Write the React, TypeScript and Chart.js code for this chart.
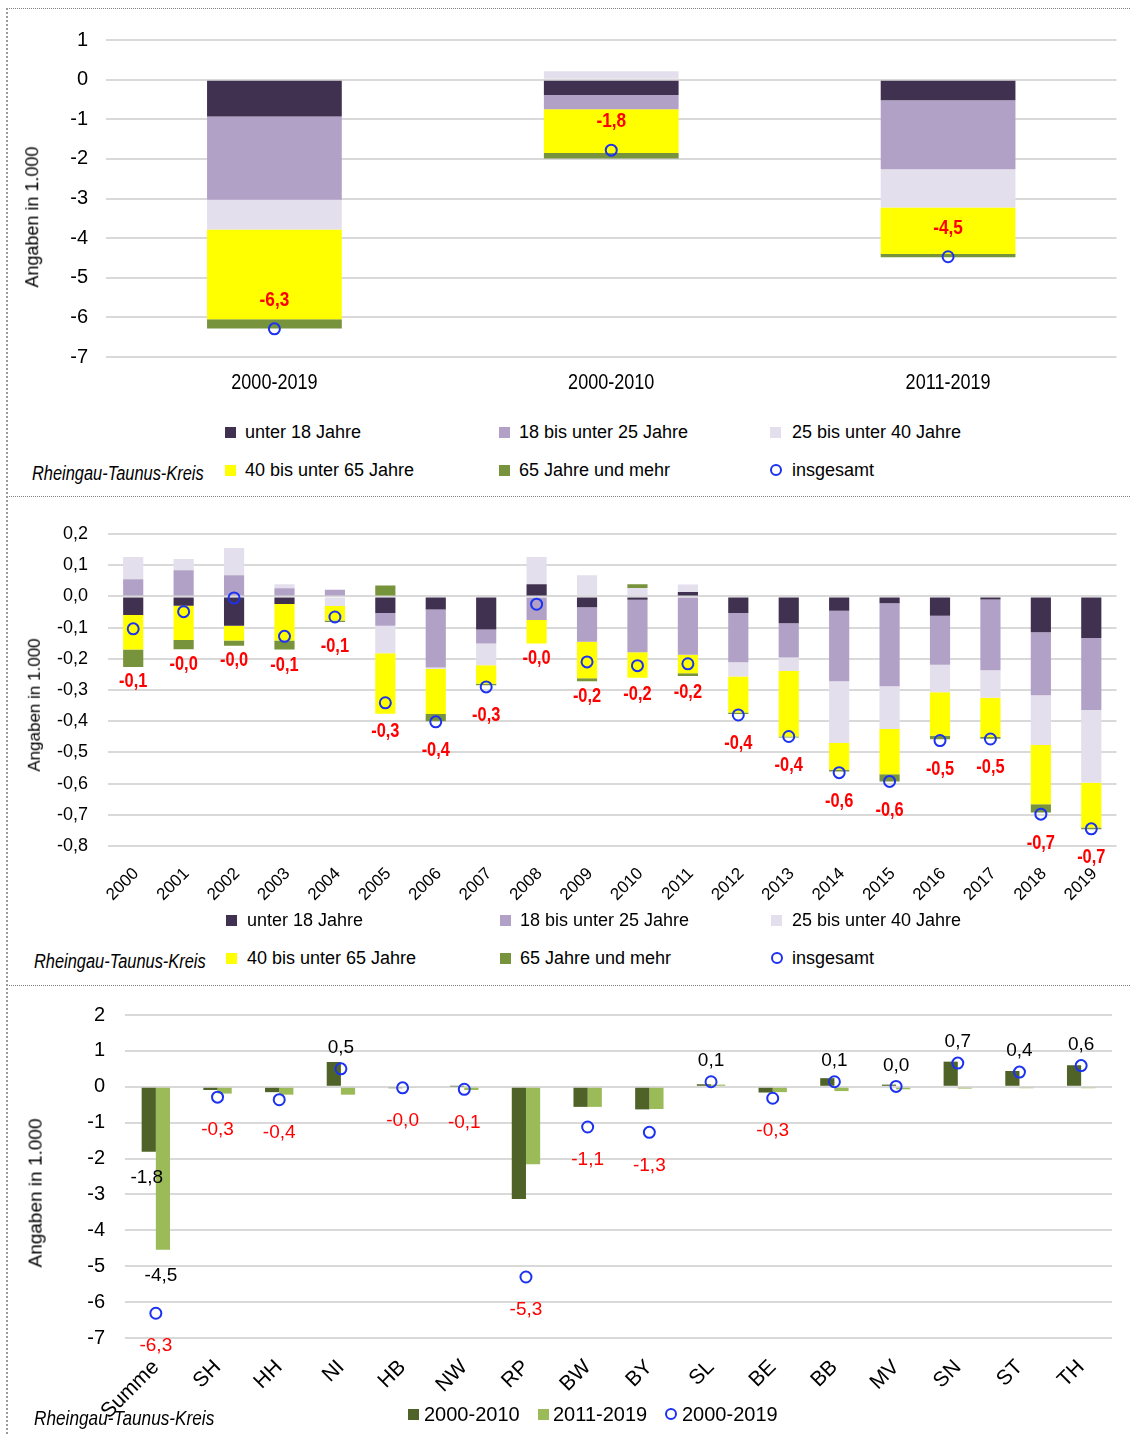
import React, { useEffect, useRef } from 'react';
import { Chart, registerables } from 'chart.js';

Chart.register(...registerables);

const SANS = '"Liberation Sans", Arial, sans-serif';
const NARROW_SCALE = 0.82;

// ---------- shared labels ----------
const ageGroups = ['unter 18 Jahre', '18 bis unter 25 Jahre', '25 bis unter 40 Jahre', '40 bis unter 65 Jahre', '65 Jahre und mehr'];
const totalLabel = 'insgesamt';
const regionLabel = 'Rheingau-Taunus-Kreis';
const axisTitle = 'Angaben in 1.000';
const ageColors = ['#403151', '#B2A1C7', '#E4DFEC', '#FFFF00', '#77933C'];
const circleColor = '#1c32f0';

// ---------- panel 1: periods ----------
const periodLabels = ['2000-2019', '2000-2010', '2011-2019'];
const periodUnder18 = [-0.93, -0.39, -0.52];
const period18to25 = [-2.1, -0.36, -1.74];
const period25to40 = [-0.75, 0.21, -0.97];
const period40to65 = [-2.27, -1.1, -1.17];
const period65plus = [-0.23, -0.14, -0.08];
const periodTotal = [-6.29, -1.78, -4.47];

// ---------- panel 2: years ----------
const years = ['2000', '2001', '2002', '2003', '2004', '2005', '2006', '2007', '2008', '2009', '2010', '2011', '2012', '2013', '2014', '2015', '2016', '2017', '2018', '2019'];
const yearUnder18 = [-0.06, -0.03, -0.094, -0.024, 0, -0.053, -0.042, -0.106, 0.039, -0.035, -0.011, 0.014, -0.053, -0.086, -0.046, -0.022, -0.062, -0.01, -0.115, -0.133];
const year18to25 = [0.055, 0.084, 0.068, 0.026, 0.021, -0.041, -0.186, -0.045, -0.076, -0.11, -0.168, -0.187, -0.158, -0.11, -0.226, -0.266, -0.157, -0.227, -0.202, -0.231];
const year25to40 = [0.071, 0.036, 0.087, 0.013, -0.031, -0.088, -0.005, -0.07, 0.087, 0.068, 0.027, 0.024, -0.046, -0.043, -0.198, -0.137, -0.088, -0.088, -0.159, -0.233];
const year40to65 = [-0.11, -0.11, -0.047, -0.117, -0.046, -0.194, -0.144, -0.059, -0.075, -0.117, -0.082, -0.059, -0.115, -0.21, -0.086, -0.145, -0.14, -0.126, -0.19, -0.144];
const year65plus = [-0.056, -0.029, -0.017, -0.029, -0.005, 0.035, -0.023, -0.005, 0, -0.01, 0.012, -0.009, -0.005, -0.003, -0.005, -0.023, -0.011, -0.005, -0.027, -0.005];
const yearTotal = [-0.104, -0.049, -0.005, -0.128, -0.066, -0.341, -0.402, -0.29, -0.025, -0.21, -0.222, -0.216, -0.38, -0.449, -0.565, -0.593, -0.462, -0.457, -0.698, -0.745];

// ---------- panel 3: Bundesländer ----------
const states = ['Summe', 'SH', 'HH', 'NI', 'HB', 'NW', 'RP', 'BW', 'BY', 'SL', 'BE', 'BB', 'MV', 'SN', 'ST', 'TH'];
const seriesNames3 = ['2000-2010', '2011-2019', '2000-2019'];
const states2000to2010 = [-1.81, -0.09, -0.15, 0.69, -0.04, 0.01, -3.13, -0.56, -0.63, 0.07, -0.16, 0.24, 0.06, 0.7, 0.44, 0.6];
const states2011to2019 = [-4.54, -0.19, -0.22, -0.22, -0.03, -0.09, -2.16, -0.56, -0.62, 0.06, -0.15, -0.12, -0.07, -0.05, -0.04, -0.04];
const states2000to2019 = [-6.31, -0.29, -0.36, 0.5, -0.03, -0.07, -5.3, -1.12, -1.27, 0.14, -0.32, 0.14, 0.01, 0.66, 0.41, 0.59];
const barLabelCategories = ['Summe'];
const stateColors = ['#4F6228', '#9BBB59'];

const fmt = (v: number) => (Math.abs(v) < 1e-9 ? '0,0' : v.toFixed(1).replace('.', ','));

function drawText(ctx: any, text: string, x: number, y: number, rotation = 0, scaleX = 1) {
  ctx.save();
  ctx.translate(x, y);
  if (rotation) ctx.rotate(rotation);
  if (scaleX !== 1) ctx.scale(scaleX, 1);
  ctx.fillText(text, 0, 0);
  ctx.restore();
}

// ---------- plugins ----------
const xLabels = (size: number, dy: number, rotated: boolean, dx: number, scaleX: number) => ({
  id: 'xLabels',
  afterDraw(chart: any) {
    const xs = chart.scales.x;
    const ctx = chart.ctx;
    ctx.save();
    ctx.font = `${size}px ${SANS}`;
    ctx.fillStyle = '#000';
    ctx.textBaseline = 'middle';
    ctx.textAlign = rotated ? 'right' : 'center';
    (chart.data.labels as string[]).forEach((lab, i) => {
      const x = xs.getPixelForTick(i);
      drawText(ctx, lab, x + dx, xs.top + dy, rotated ? -Math.PI / 4 : 0, scaleX);
    });
    ctx.restore();
  },
});

const panel1Labels = {
  id: 'panel1Labels',
  afterDatasetsDraw(chart: any) {
    const idx = chart.data.datasets.findIndex((d: any) => d.type === 'line');
    const meta = chart.getDatasetMeta(idx);
    const data = chart.data.datasets[idx].data as number[];
    const ctx = chart.ctx;
    ctx.save();
    ctx.font = `bold 21px ${SANS}`;
    ctx.fillStyle = '#FF0000';
    ctx.textAlign = 'center';
    ctx.textBaseline = 'middle';
    meta.data.forEach((pt: any, i: number) => {
      drawText(ctx, fmt(data[i]), pt.x, pt.y - 29, 0, NARROW_SCALE);
    });
    ctx.restore();
  },
};

const panel2Labels = {
  id: 'panel2Labels',
  afterDatasetsDraw(chart: any) {
    const idx = chart.data.datasets.findIndex((d: any) => d.type === 'line');
    const meta = chart.getDatasetMeta(idx);
    const data = chart.data.datasets[idx].data as number[];
    const yScale = chart.scales.y;
    const stacks = [yearUnder18, year18to25, year25to40, year40to65, year65plus];
    const ctx = chart.ctx;
    ctx.save();
    ctx.font = `bold 20px ${SANS}`;
    ctx.fillStyle = '#FF0000';
    ctx.textAlign = 'center';
    ctx.textBaseline = 'middle';
    meta.data.forEach((pt: any, i: number) => {
      let neg = 0;
      stacks.forEach((s) => { if (s[i] < 0) neg += s[i]; });
      const bottom = yScale.getPixelForValue(neg);
      const y = Math.max(pt.y + 29, bottom + 15);
      drawText(ctx, fmt(data[i]), pt.x, y, 0, NARROW_SCALE);
    });
    ctx.restore();
  },
};

const panel3Labels = {
  id: 'panel3Labels',
  afterDatasetsDraw(chart: any) {
    const ctx = chart.ctx;
    ctx.save();
    ctx.font = `19px ${SANS}`;
    ctx.textAlign = 'center';
    ctx.textBaseline = 'middle';
    [0, 1].forEach((di) => {
      const meta = chart.getDatasetMeta(di);
      const data = chart.data.datasets[di].data as number[];
      meta.data.forEach((bar: any, i: number) => {
        if (!barLabelCategories.includes(states[i])) return;
        ctx.fillStyle = '#000';
        const v = data[i];
        const y = v < 0 ? bar.y + 26 : bar.y - 20;
        ctx.fillText(fmt(v), bar.x - 2, y);
      });
    });
    const idx = chart.data.datasets.findIndex((d: any) => d.type === 'line');
    const meta = chart.getDatasetMeta(idx);
    const data = chart.data.datasets[idx].data as number[];
    meta.data.forEach((pt: any, i: number) => {
      const v = data[i];
      if (v < 0) {
        ctx.fillStyle = '#FF0000';
        ctx.fillText(fmt(v), pt.x, pt.y + 33);
      } else {
        ctx.fillStyle = '#000';
        ctx.fillText(fmt(v), pt.x, pt.y - 21);
      }
    });
    ctx.restore();
  },
};

// ---------- helpers ----------
const gridOpts = { color: '#d9d9d9', lineWidth: 2, drawTicks: false };

const fitY = (w: number) => (s: any) => { s.width = w; s.paddingTop = 0; s.paddingBottom = 0; };
const fitX = (h: number) => (s: any) => { s.height = h; s.paddingLeft = 0; s.paddingRight = 0; };

function circleDataset(label: string, data: number[]) {
  return {
    type: 'line' as const,
    label,
    data,
    showLine: false,
    pointStyle: 'circle',
    pointRadius: 5.5,
    pointBorderWidth: 2,
    pointBorderColor: circleColor,
    pointBackgroundColor: 'rgba(0,0,0,0)',
    borderColor: circleColor,
    backgroundColor: 'rgba(0,0,0,0)',
    stack: 'total',
    order: 0,
  };
}

function ageBarDatasets(series: number[][], barPct: number) {
  return series.map((data, i) => ({
    type: 'bar' as const,
    label: ageGroups[i],
    data,
    backgroundColor: ageColors[i],
    borderWidth: 0,
    barPercentage: barPct,
    categoryPercentage: 1,
    stack: 'ages',
    order: 1,
  }));
}

function ChartBox({ config, left, top, width, height }: any) {
  const ref = useRef<HTMLCanvasElement>(null);
  useEffect(() => {
    const chart = new Chart(ref.current as HTMLCanvasElement, config);
    return () => chart.destroy();
  }, []);
  return (
    <div style={{ position: 'absolute', left, top, width, height }}>
      <canvas ref={ref} />
    </div>
  );
}

function Txt({ x, cy, size = 18, italic = false, narrow = false, children }: any) {
  return (
    <div
      style={{
        position: 'absolute',
        left: x,
        top: cy - 13,
        height: 26,
        lineHeight: '26px',
        fontFamily: SANS,
        fontSize: size,
        fontStyle: italic ? 'italic' : 'normal',
        color: '#000',
        whiteSpace: 'nowrap',
        transform: narrow ? `scaleX(${NARROW_SCALE})` : undefined,
        transformOrigin: 'left center',
      }}
    >
      {children}
    </div>
  );
}

function VTitle({ cx, cy, size }: any) {
  return (
    <div style={{ position: 'absolute', left: cx, top: cy, width: 0, height: 0 }}>
      <div
        style={{
          position: 'absolute',
          left: 0,
          top: 0,
          fontFamily: SANS,
          fontSize: size,
          lineHeight: 1.2,
          whiteSpace: 'nowrap',
          color: '#000',
          transform: 'translate(-50%, -50%) rotate(-90deg)',
        }}
      >
        {axisTitle}
      </div>
    </div>
  );
}

function Square({ x, cy, color }: any) {
  return <div style={{ position: 'absolute', left: x, top: cy - 5.5, width: 11, height: 11, background: color }} />;
}

function Ring({ x, cy }: any) {
  return (
    <div
      style={{
        position: 'absolute',
        left: x,
        top: cy - 6,
        width: 8,
        height: 8,
        border: `2px solid ${circleColor}`,
        borderRadius: '50%',
      }}
    />
  );
}

function AgeLegend({ y1, y2, xs, tx }: any) {
  return (
    <>
      <Square x={xs[0]} cy={y1} color={ageColors[0]} />
      <Txt x={tx[0]} cy={y1}>{ageGroups[0]}</Txt>
      <Square x={xs[1]} cy={y1} color={ageColors[1]} />
      <Txt x={tx[1]} cy={y1}>{ageGroups[1]}</Txt>
      <Square x={xs[2]} cy={y1} color={ageColors[2]} />
      <Txt x={tx[2]} cy={y1}>{ageGroups[2]}</Txt>
      <Square x={xs[0]} cy={y2} color={ageColors[3]} />
      <Txt x={tx[0]} cy={y2}>{ageGroups[3]}</Txt>
      <Square x={xs[1]} cy={y2} color={ageColors[4]} />
      <Txt x={tx[1]} cy={y2}>{ageGroups[4]}</Txt>
      <Ring x={xs[2]} cy={y2} />
      <Txt x={tx[2]} cy={y2}>{totalLabel}</Txt>
    </>
  );
}

// ---------- configs ----------
const baseOptions = {
  responsive: true,
  maintainAspectRatio: false,
  animation: false,
  plugins: { legend: { display: false }, tooltip: { enabled: false } },
};

const config1: any = {
  type: 'bar',
  data: {
    labels: periodLabels,
    datasets: [
      circleDataset(totalLabel, periodTotal),
      ...ageBarDatasets([periodUnder18, period18to25, period25to40, period40to65, period65plus], 0.4),
    ],
  },
  options: {
    ...baseOptions,
    layout: { padding: { top: 20, right: 5, left: 0, bottom: 0 } },
    scales: {
      x: {
        stacked: true,
        grid: { display: false },
        border: { display: false },
        ticks: { display: false },
        afterFit: fitX(53),
      },
      y: {
        stacked: true,
        min: -7,
        max: 1,
        ticks: { stepSize: 1, font: { family: SANS, size: 20 }, color: '#000', padding: 18, callback: (v: any) => String(v) },
        grid: gridOpts,
        border: { display: false },
        afterFit: fitY(98),
      },
    },
  },
  plugins: [panel1Labels, xLabels(22, 26, false, 0, NARROW_SCALE)],
};

const config2: any = {
  type: 'bar',
  data: {
    labels: years,
    datasets: [
      circleDataset(totalLabel, yearTotal),
      ...ageBarDatasets([yearUnder18, year18to25, year25to40, year40to65, year65plus], 0.4),
    ],
  },
  options: {
    ...baseOptions,
    layout: { padding: { top: 24, right: 4, left: 0, bottom: 0 } },
    scales: {
      x: {
        stacked: true,
        grid: { display: false },
        border: { display: false },
        ticks: { display: false },
        afterFit: fitX(64),
      },
      y: {
        stacked: true,
        min: -0.8,
        max: 0.2,
        ticks: { stepSize: 0.1, font: { family: SANS, size: 18 }, color: '#000', padding: 20, callback: (v: any) => fmt(Number(v)) },
        grid: gridOpts,
        border: { display: false },
        afterFit: fitY(100),
      },
    },
  },
  plugins: [panel2Labels, xLabels(17, 25, true, 3, 1)],
};

const config3: any = {
  type: 'bar',
  data: {
    labels: states,
    datasets: [
      { type: 'bar', label: seriesNames3[0], data: states2000to2010, backgroundColor: stateColors[0], borderWidth: 0, barPercentage: 1, categoryPercentage: 0.46, order: 1 },
      { type: 'bar', label: seriesNames3[1], data: states2011to2019, backgroundColor: stateColors[1], borderWidth: 0, barPercentage: 1, categoryPercentage: 0.46, order: 1 },
      circleDataset(seriesNames3[2], states2000to2019),
    ],
  },
  options: {
    ...baseOptions,
    layout: { padding: { top: 20, right: 12, left: 0, bottom: 0 } },
    scales: {
      x: {
        grid: { display: false },
        border: { display: false },
        ticks: { font: { family: SANS, size: 21 }, color: '#000', padding: 9, maxRotation: 45, minRotation: 45, autoSkip: false },
        afterFit: fitX(96),
      },
      y: {
        min: -7,
        max: 2,
        ticks: { stepSize: 1, font: { family: SANS, size: 20 }, color: '#000', padding: 20, callback: (v: any) => String(v) },
        grid: gridOpts,
        border: { display: false },
        afterFit: fitY(117),
      },
    },
  },
  plugins: [panel3Labels],
};

export default function App() {
  return (
    <div style={{ position: 'absolute', left: 0, top: 0, width: 1130, height: 1434, background: '#fff', overflow: 'hidden' }}>
      {/* frame */}
      <div style={{ position: 'absolute', left: 7, top: 8, width: 1123, borderTop: '1px dotted #7f7f7f' }} />
      <div style={{ position: 'absolute', left: 7, top: 496, width: 1123, borderTop: '1px dotted #7f7f7f' }} />
      <div style={{ position: 'absolute', left: 7, top: 985, width: 1123, borderTop: '1px dotted #7f7f7f' }} />
      <div style={{ position: 'absolute', left: 6, top: 8, height: 1426, borderLeft: '2px dotted #9a9a9a' }} />

      {/* panel 1 */}
      <ChartBox config={config1} left={8} top={20} width={1116} height={390} />
      <VTitle cx={33} cy={217} size={18} />
      <AgeLegend y1={432} y2={470} xs={[225, 499, 770]} tx={[245, 519, 792]} />
      <Txt x={32} cy={473} size={20} italic narrow>{regionLabel}</Txt>

      {/* panel 2 */}
      <ChartBox config={config2} left={8} top={510} width={1116} height={400} />
      <VTitle cx={35} cy={705} size={17} />
      <AgeLegend y1={920} y2={958} xs={[226, 500, 771]} tx={[247, 520, 792]} />
      <Txt x={34} cy={961} size={20} italic narrow>{regionLabel}</Txt>

      {/* panel 3 */}
      <ChartBox config={config3} left={8} top={995} width={1116} height={439} />
      <VTitle cx={36} cy={1193} size={19} />
      <Txt x={34} cy={1418} size={21} italic narrow>{regionLabel}</Txt>
      <Square x={408} cy={1414} color={stateColors[0]} />
      <Txt x={424} cy={1414} size={20}>{seriesNames3[0]}</Txt>
      <Square x={538} cy={1414} color={stateColors[1]} />
      <Txt x={553} cy={1414} size={20}>{seriesNames3[1]}</Txt>
      <Ring x={665} cy={1414} />
      <Txt x={682} cy={1414} size={20}>{seriesNames3[2]}</Txt>
    </div>
  );
}
